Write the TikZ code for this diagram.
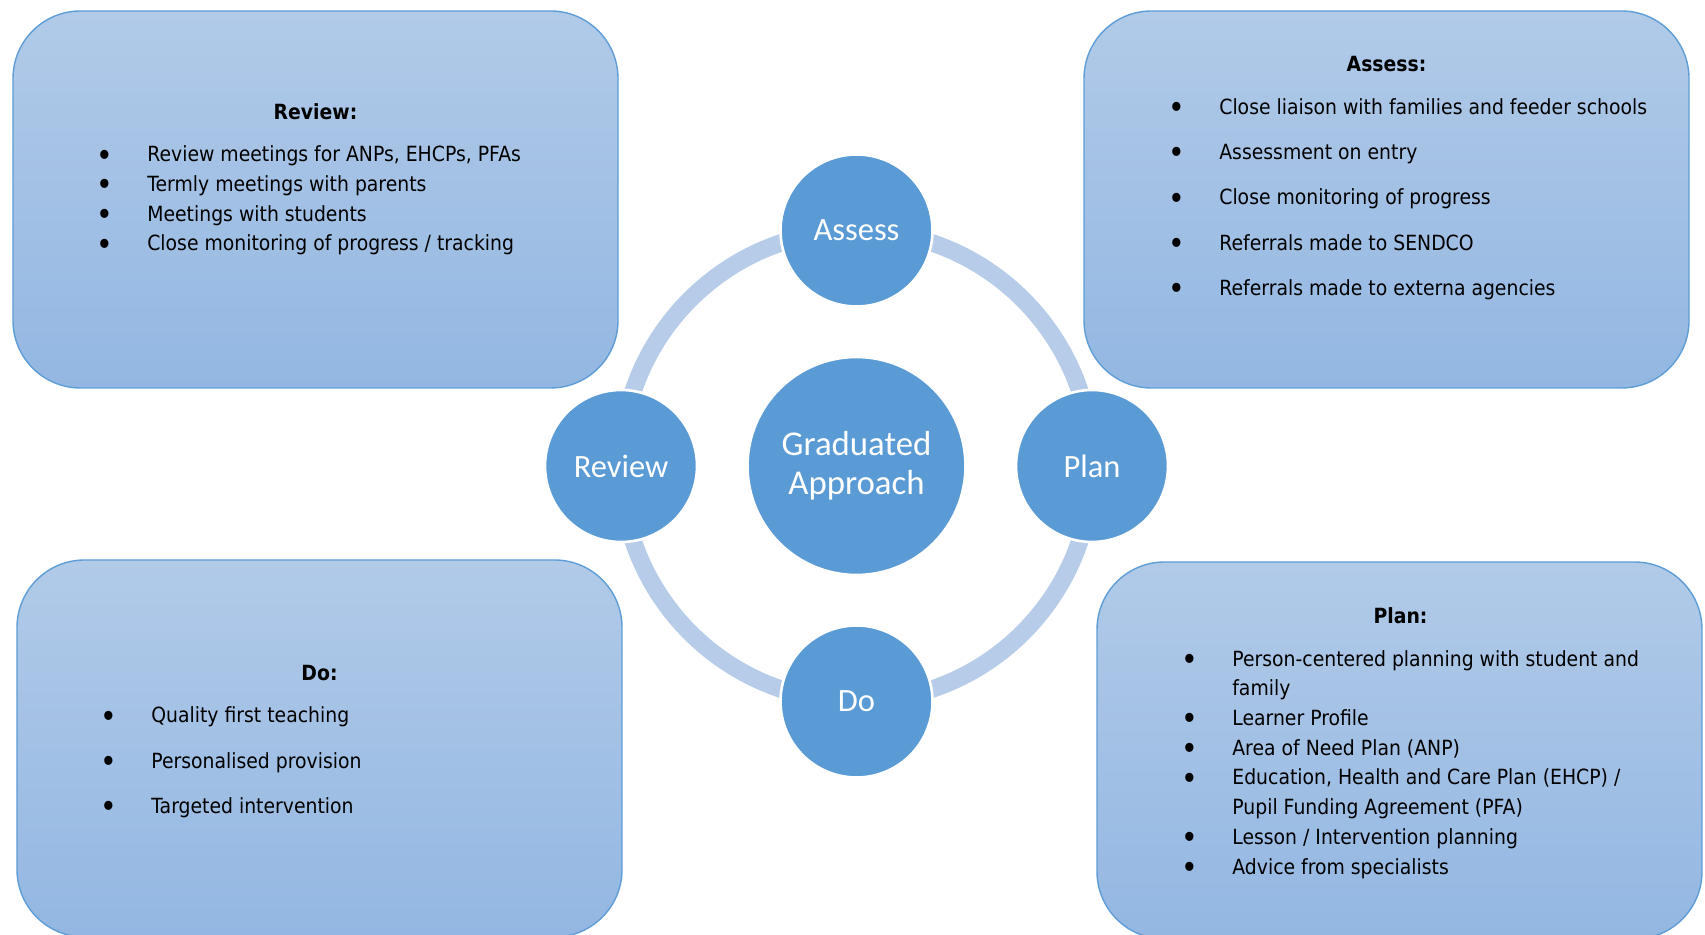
\documentclass[tikz,border=0pt]{standalone}
\usepackage{fontspec}
\setmainfont{DejaVu Sans}[FakeStretch=0.9]
\newfontfamily\circfont{Carlito}
\usepackage{tikz}
\usetikzlibrary{calc,positioning}

\definecolor{stageblue}{HTML}{5B9BD5}
\definecolor{ringblue}{HTML}{B7CCE8}
\definecolor{boxtop}{HTML}{B1CAE8}
\definecolor{boxbottom}{HTML}{93B7E2}
\definecolor{boxedge}{HTML}{5F9DD6}

% bullet set 0.85cm in front of the text
\newcommand{\bul}{\llap{\makebox[0pt]{\raisebox{-2.4pt}{\scalebox{1.5}{\textbullet}}}\hspace{0.85cm}}}

\begin{document}
\begin{tikzpicture}[line cap=round,line join=round,
    infobox/.style={draw=boxedge,line width=0.8pt,top color=boxtop,bottom color=boxbottom,
        rounded corners=1.35cm,minimum width=12.1cm,minimum height=7.54cm,inner sep=0pt},
    listtext/.style={anchor=base west,align=left,inner sep=0pt,
        font=\fontsize{11.9}{16.9}\selectfont},
    heading/.style={anchor=base,inner sep=0pt,font=\fontsize{11.9}{16.9}\selectfont\bfseries},
    stage/.style={circle,fill=stageblue,draw=white,line width=1.5pt,minimum size=3.04cm,
        inner sep=0pt,text=white,font=\circfont\fontsize{18.5}{22}\selectfont},
    core/.style={stage,minimum size=4.36cm,align=center,font=\circfont\fontsize{19.8}{22}\selectfont}]

    \useasboundingbox (0,0) rectangle (34.1,18.68);

    % --- Boxes ---
    \node[infobox] (reviewBox) at (6.31,14.69) {};
    \node[infobox] (assessBox) at (27.73,14.69) {};
    \node[infobox] (doBox) at (6.39,3.71) {};
    \node[infobox] (planBox) at (27.99,3.67) {};

    % Review text (lists sit on their last line)
    \node[heading] (reviewHead) at (6.31,16.29) {Review:};
    \node[listtext] (reviewList) at (2.94,13.66) {\bul Review meetings for ANPs, EHCPs, PFAs\\
        \bul Termly meetings with parents\\
        \bul Meetings with students\\
        \bul Close monitoring of progress / tracking};

    % Assess text
    \node[heading] (assessHead) at (27.73,17.25) {Assess:};
    \node[listtext] (assessList) at (24.38,12.77) {\bul Close liaison with families and feeder schools\\[8.9pt]
        \bul Assessment on entry\\[8.9pt]
        \bul Close monitoring of progress\\[8.9pt]
        \bul Referrals made to SENDCO\\[8.9pt]
        \bul Referrals made to externa agencies};

    % Do text
    \node[heading] (doHead) at (6.39,5.07) {Do:};
    \node[listtext] (doList) at (3.02,2.41) {\bul Quality first teaching\\[8.9pt]
        \bul Personalised provision\\[8.9pt]
        \bul Targeted intervention};

    % Plan text
    \node[heading] (planHead) at (28.01,6.20) {Plan:};
    \node[listtext] (planList) at (24.64,1.20) {\bul Person-centered planning with student and\\
        family\\
        \bul Learner Profile\\
        \bul Area of Need Plan (ANP)\\
        \bul Education, Health and Care Plan (EHCP) /\\
        Pupil Funding Agreement (PFA)\\
        \bul Lesson / Intervention planning\\
        \bul Advice from specialists};

    % --- Cycle ---
    \coordinate (hub) at (17.13,9.36);
    \draw[ringblue,line width=0.35cm] (hub) circle (4.71cm);

    \node[core] (ga) at (hub) {Graduated\\Approach};
    \node[stage] (assess) at ($(hub)+(0,4.71)$) {Assess};
    \node[stage] (plan) at ($(hub)+(4.71,0)$) {Plan};
    \node[stage] (do) at ($(hub)+(0,-4.71)$) {Do};
    \node[stage] (review) at ($(hub)+(-4.71,0)$) {Review};

\end{tikzpicture}
\end{document}
